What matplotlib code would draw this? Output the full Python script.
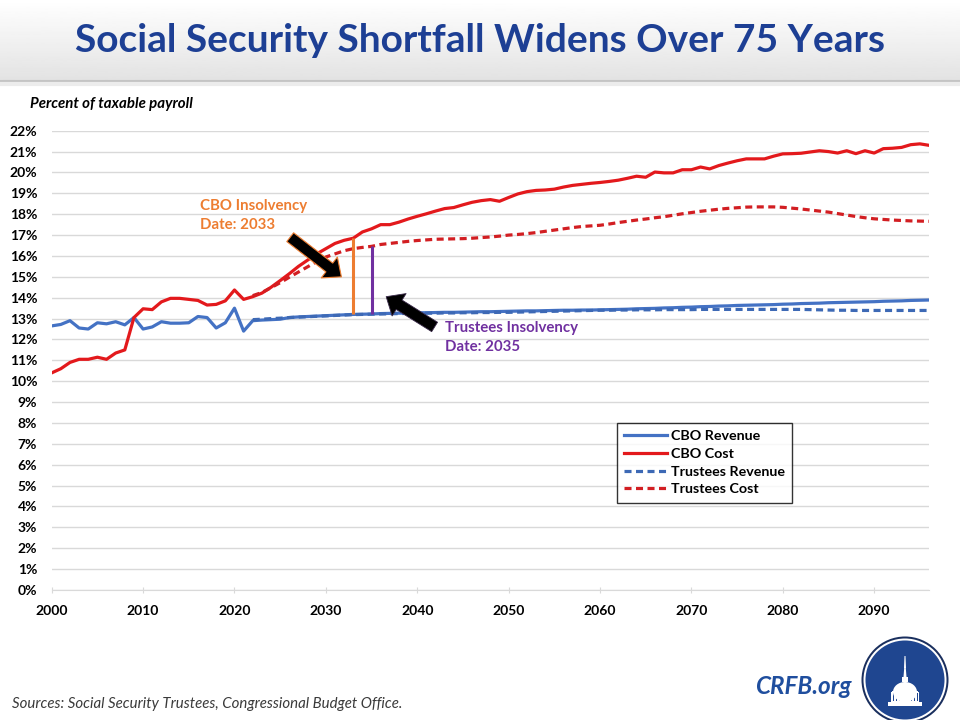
import numpy as np
import matplotlib.pyplot as plt
from matplotlib.patches import Circle, Ellipse, Rectangle, Polygon
from matplotlib.lines import Line2D

# data (percent of taxable payroll)
years = list(range(2000, 2097))
cbo_cost = [
    10.40, 10.60, 10.90, 11.05, 11.05, 11.15, 11.05, 11.35, 11.50, 13.05,
    13.47, 13.43, 13.80, 13.97, 13.97, 13.92, 13.87, 13.65, 13.68, 13.85,
    14.37, 13.92, 14.05, 14.22, 14.50, 14.82, 15.15, 15.50, 15.80, 16.10,
    16.35, 16.60, 16.75, 16.85, 17.15, 17.30, 17.50, 17.50, 17.62, 17.77,
    17.90, 18.02, 18.15, 18.27, 18.32, 18.45, 18.57, 18.65, 18.70, 18.62,
    18.80, 18.97, 19.08, 19.14, 19.16, 19.20, 19.30, 19.38, 19.43, 19.48,
    19.52, 19.57, 19.63, 19.72, 19.82, 19.77, 20.02, 19.98, 19.98, 20.13,
    20.13, 20.26, 20.17, 20.33, 20.45, 20.56, 20.65, 20.65, 20.65, 20.78,
    20.89, 20.90, 20.92, 20.98, 21.04, 21.00, 20.93, 21.04, 20.90, 21.04,
    20.93, 21.14, 21.16, 21.20, 21.33, 21.37, 21.30,
]
cbo_revenue = [
    12.65, 12.72, 12.90, 12.55, 12.50, 12.80, 12.75, 12.85, 12.70, 13.05,
    12.50, 12.60, 12.85, 12.78, 12.78, 12.80, 13.10, 13.05, 12.55, 12.80,
    13.50, 12.40, 12.90, 12.93, 12.95, 12.97, 13.05, 13.08, 13.10, 13.12,
    13.14, 13.16, 13.18, 13.20, 13.21, 13.22, 13.24, 13.25, 13.26, 13.27,
    13.28, 13.28, 13.29, 13.30, 13.30, 13.31, 13.32, 13.33, 13.33, 13.34,
    13.35, 13.36, 13.37, 13.37, 13.38, 13.39, 13.40, 13.40, 13.41, 13.41,
    13.42, 13.43, 13.44, 13.45, 13.47, 13.48, 13.49, 13.51, 13.52, 13.54,
    13.55, 13.57, 13.58, 13.60, 13.61, 13.63, 13.64, 13.65, 13.66, 13.67,
    13.69, 13.70, 13.72, 13.73, 13.74, 13.76, 13.77, 13.78, 13.79, 13.80,
    13.81, 13.83, 13.84, 13.85, 13.87, 13.88, 13.89,
]
trustees_years = list(range(2022, 2097))
trustees_revenue = [
    12.95, 12.97, 13.00, 13.02, 13.05, 13.07, 13.09, 13.11,
    13.13, 13.15, 13.17, 13.19, 13.20, 13.21, 13.22, 13.23, 13.24, 13.25,
    13.25, 13.26, 13.26, 13.27, 13.27, 13.28, 13.28, 13.29, 13.29, 13.30,
    13.30, 13.31, 13.32, 13.33, 13.34, 13.35, 13.36, 13.37, 13.38, 13.39,
    13.40, 13.40, 13.41, 13.41, 13.42, 13.42, 13.42, 13.43, 13.43, 13.43,
    13.43, 13.44, 13.44, 13.44, 13.44, 13.44, 13.44, 13.44, 13.44, 13.44,
    13.44, 13.44, 13.44, 13.43, 13.42, 13.41, 13.40, 13.40, 13.39, 13.39,
    13.39, 13.39, 13.39, 13.39, 13.39, 13.39, 13.39,
]
trustees_cost = [
    14.10, 14.25, 14.48, 14.72, 14.98, 15.23, 15.48, 15.73,
    15.95, 16.10, 16.25, 16.35, 16.41, 16.46, 16.55, 16.60, 16.65, 16.70,
    16.74, 16.77, 16.80, 16.81, 16.82, 16.83, 16.85, 16.88, 16.91, 16.95,
    17.00, 17.03, 17.07, 17.12, 17.18, 17.24, 17.30, 17.36, 17.41, 17.44,
    17.47, 17.53, 17.60, 17.66, 17.72, 17.77, 17.83, 17.88, 17.95, 18.02,
    18.08, 18.14, 18.19, 18.24, 18.28, 18.31, 18.34, 18.35, 18.35, 18.35,
    18.33, 18.29, 18.25, 18.20, 18.15, 18.10, 18.03, 17.96, 17.89, 17.83,
    17.78, 17.75, 17.72, 17.70, 17.68, 17.67, 17.66,
]
cbo_insolvency = 2033
trustees_insolvency = 2035
x_ticks = list(range(2000, 2100, 10))
y_ticks = list(range(0, 23))

BLUE = "#4472C4"
RED = "#E3191C"
DBLUE = "#3D69B5"
DRED = "#D21E22"
ORANGE = "#ED7D31"
PURPLE = "#7030A0"
TITLE = "#1D3F94"

plt.rcParams["font.family"] = ["Lato", "DejaVu Sans"]

fig = plt.figure(figsize=(9.6, 7.2), dpi=100)
fig.patch.set_facecolor("white")

# header band with a soft grey gradient
hdr = fig.add_axes([0, 1 - 80 / 720, 1, 80 / 720])
grad = np.linspace(1.0, 0.89, 64).reshape(-1, 1)
hdr.imshow(grad, cmap="gray", vmin=0, vmax=1, aspect="auto", extent=[0, 1, 0, 1])
hdr.set_axis_off()
fig.add_artist(Line2D([0, 1], [1 - 81 / 720] * 2, color="#c4c4c4", lw=1.5))
fig.add_artist(Line2D([0, 1], [1 - 84 / 720] * 2, color="#ececec", lw=3))
fig.text(0.5, 1 - 40 / 720, "Social Security Shortfall Widens Over 75 Years",
         ha="center", va="center", fontsize=28, fontweight="bold", color=TITLE)

ax = fig.add_axes([51.7 / 960, 130 / 720, (929 - 51.7) / 960, (590 - 130.7) / 720])
ax.set_xlim(2000, 2096)
ax.set_ylim(0, 22)

ax.plot(years, cbo_revenue, color=BLUE, lw=2.3, label="CBO Revenue", zorder=3)
ax.plot(years, cbo_cost, color=RED, lw=2.3, label="CBO Cost", zorder=3)
ax.plot(trustees_years, trustees_revenue, color=DBLUE, lw=2.3, ls=(0, (2.2, 1.4)),
        label="Trustees Revenue", zorder=4)
ax.plot(trustees_years, trustees_cost, color=DRED, lw=2.3, ls=(0, (2.2, 1.4)),
        label="Trustees Cost", zorder=4)

# insolvency markers
i = years.index(cbo_insolvency)
ax.vlines(cbo_insolvency, cbo_revenue[i], cbo_cost[i], color=ORANGE, lw=2.2, zorder=5)
j = trustees_years.index(trustees_insolvency)
ax.vlines(trustees_insolvency, trustees_revenue[j], trustees_cost[j], color=PURPLE, lw=2.2, zorder=5)

ax.annotate("", xy=(2031.7, 15.0), xytext=(2026.1, 16.9),
            arrowprops=dict(arrowstyle="simple,head_width=1.9,head_length=1.1,tail_width=0.8",
                            fc="black", ec=ORANGE, lw=0.8, mutation_scale=10, shrinkA=0, shrinkB=0),
            zorder=6)
ax.annotate("", xy=(2036.6, 14.05), xytext=(2041.9, 12.6),
            arrowprops=dict(arrowstyle="simple,head_width=1.9,head_length=1.1,tail_width=0.8",
                            fc="black", ec="#3a2a4a", lw=0.6, mutation_scale=10, shrinkA=0, shrinkB=0),
            zorder=6)
ax.text(2016.2, 17.95, "CBO Insolvency\nDate: 2033", color=ORANGE, fontsize=10.8,
        fontweight="bold", ha="left", va="center", linespacing=1.45)
ax.text(2043.0, 12.1, "Trustees Insolvency\nDate: 2035", color=PURPLE, fontsize=10.8,
        fontweight="bold", ha="left", va="center", linespacing=1.45)

ax.set_xticks(x_ticks)
ax.set_yticks(y_ticks)
ax.set_yticklabels([f"{v}%" for v in y_ticks])
ax.grid(axis="y", color="#d9d9d9", lw=1)
ax.set_axisbelow(True)
for s in ["top", "right", "left"]:
    ax.spines[s].set_visible(False)
ax.spines["bottom"].set_color("#d9d9d9")
ax.tick_params(axis="y", length=0, pad=10.5, labelsize=10)
ax.tick_params(axis="x", length=5, direction="inout", color="#d9d9d9", pad=8, labelsize=10)
for lbl in ax.get_xticklabels() + ax.get_yticklabels():
    lbl.set_fontweight("bold")

leg = ax.legend(loc="upper left", bbox_to_anchor=(0.636, 0.379), frameon=True, fancybox=False,
                handlelength=3.0, handletextpad=0.3, borderpad=0.5,
                labelspacing=0.4, prop={"weight": "bold", "size": 10.3})
leg.get_frame().set_edgecolor("black")
leg.get_frame().set_linewidth(1.0)

fig.text(30 / 960, 1 - 104 / 720, "Percent of taxable payroll", fontsize=10.8,
         fontweight="bold", fontstyle="italic", ha="left", va="center")
fig.text(12 / 960, 1 - 704 / 720, "Sources: Social Security Trustees, Congressional Budget Office.",
         fontsize=10.8, fontstyle="italic", color="#3a3a3a", ha="left", va="center")
fig.text(852 / 960, 1 - 686 / 720, "CRFB.org", fontsize=17.5, fontweight="bold",
         fontstyle="italic", color="#1F4E9E", ha="right", va="center")

# round logo with a simple capitol dome
lg = fig.add_axes([(905 - 46) / 960, 1 - (680 + 46) / 720, 92 / 960, 92 / 720])
lg.set_xlim(-46, 46)
lg.set_ylim(-46, 46)
lg.set_aspect("equal")
lg.set_axis_off()
lg.add_patch(Circle((0, 0), 43.5, fc="#1a2f5e", ec="none"))
lg.add_patch(Circle((0, 0), 41.5, fc="white", ec="none"))
lg.add_patch(Circle((0, 0), 39.5, fc="#1F4690", ec="none"))
lg.add_patch(Rectangle((-17, -26), 34, 4, fc="white", ec="none"))
lg.add_patch(Rectangle((-14, -22), 28, 10, fc="white", ec="none"))
for cx in np.arange(-12, 13, 3):
    lg.add_patch(Rectangle((cx - 0.5, -21), 1, 8, fc="#1F4690", ec="none"))
lg.add_patch(Ellipse((0, -12), 24, 20, fc="white", ec="none"))
lg.add_patch(Rectangle((-13, -13), 26, 2, fc="white", ec="none"))
lg.add_patch(Rectangle((-3, -2), 6, 5, fc="white", ec="none"))
lg.add_patch(Polygon([(-1.5, 3), (1.5, 3), (0.8, 12), (-0.8, 12)], fc="white", ec="none"))
lg.add_patch(Polygon([(-1, 12), (1, 12), (0.5, 24), (-0.5, 24)], fc="white", ec="none"))

fig.savefig("out.png", dpi=100)
